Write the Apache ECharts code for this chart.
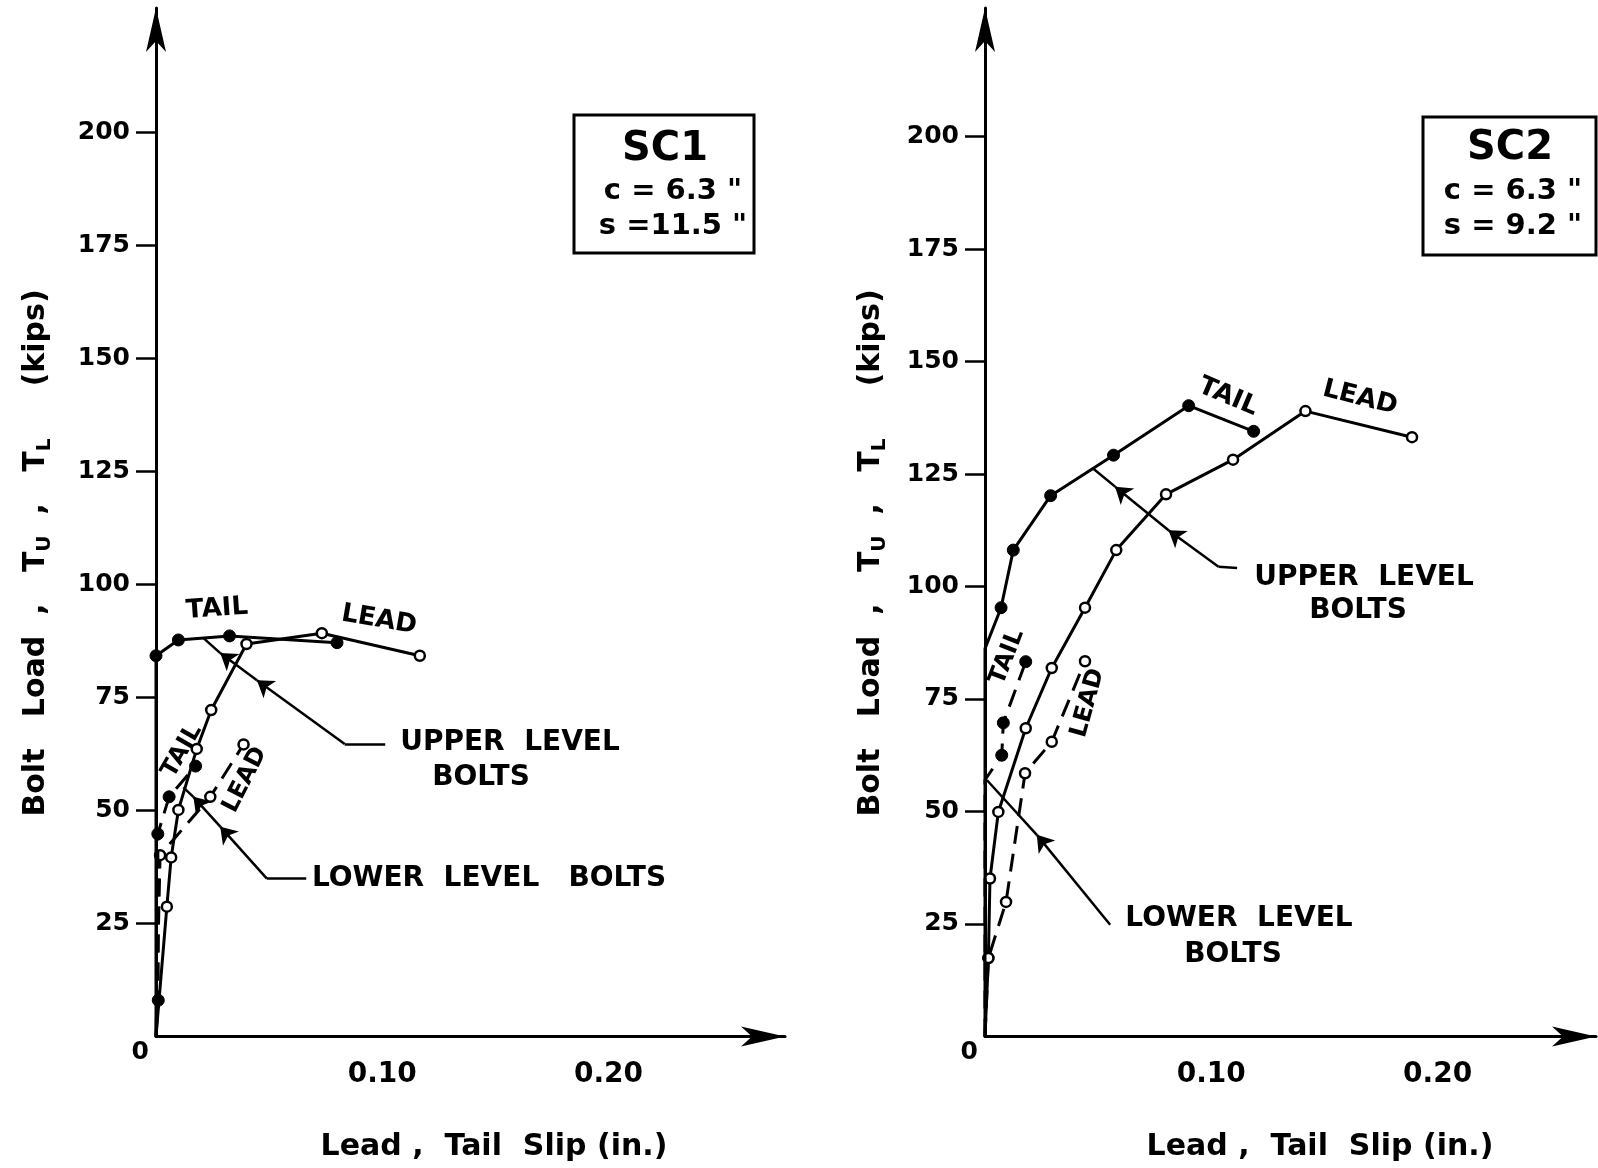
<!DOCTYPE html>
<html><head><meta charset="utf-8">
<script src="https://cdn.jsdelivr.net/npm/echarts@6/dist/echarts.min.js"></script>
<style>html,body{margin:0;padding:0;background:#fff}#c{width:1598px;height:1168px}</style>
</head><body><div id="c"></div>
<script>
// ---- data (slip in inches, load in kips) ----
const yTickValues = [25, 50, 75, 100, 125, 150, 175, 200];
const yLabelValues = [0, 25, 50, 75, 100, 125, 150, 175, 200];
const xLabelValues = [0.10, 0.20];

// SC1
const sc1UpperTail = [[0,0],[0,84.2],[0.0099,87.7],[0.0325,88.6],[0.080,87.1]];
const sc1UpperLead = [[0,0],[0.0048,28.7],[0.0067,39.6],[0.0099,50.1],[0.018,63.6],[0.0244,72.2],[0.040,86.8],[0.0733,89.2],[0.1166,84.2]];
const sc1LowerTail = [[0,0],[0.001,8.0],[0.0008,44.8],[0.0058,53.0],[0.0175,59.8]];
const sc1LowerLead = [[0,0],[0.0018,40.1],[0.024,53.0],[0.0387,64.6]];
// SC2
const sc2UpperTail = [[0,0],[0,86.2],[0.0071,95.3],[0.0125,108.1],[0.029,120.2],[0.0568,129.2],[0.090,140.2],[0.1187,134.5]];
const sc2UpperLead = [[0,0],[0.0015,17.4],[0.0022,35.1],[0.0059,49.9],[0.018,68.5],[0.0295,81.9],[0.0442,95.3],[0.058,108.1],[0.080,120.5],[0.1096,128.2],[0.1416,139.0],[0.1887,133.2]];
const sc2LowerTail = [[0,0],[0,57.0],[0.0074,62.5],[0.0081,69.7],[0.018,83.3]];
const sc2LowerLead = [[0,0],[0.0015,17.4],[0.0093,29.9],[0.0177,58.5],[0.0295,65.5],[0.0442,83.4]];

// leader lines (data coordinates) : [from, to]
const sc1LeaderArrowSegs = [[[0.0834,64.7],[0.0446,78.8]],[[0.0446,78.8],[0.0284,84.8]],[[0.0490,34.9],[0.0284,46.4]],[[0.0284,46.4],[0.0165,53.0]]];
const sc1LeaderPlainSegs = [[[0.1013,64.7],[0.0834,64.7]],[[0.0284,84.8],[0.0210,88.1]],[[0.0664,34.9],[0.0490,34.9]],[[0.0165,53.0],[0.0121,55.1]]];
const sc2LeaderArrowSegs = [[[0.1032,104.4],[0.0811,112.5]],[[0.0811,112.5],[0.0575,122.2]],[[0.0553,24.8],[0.0229,44.8]]];
const sc2LeaderPlainSegs = [[[0.1114,104.1],[0.1032,104.4]],[[0.0575,122.2],[0.0479,126.2]],[[0.0229,44.8],[0.0008,57.0]]];

const FONT = '"DejaVu Sans", sans-serif';
const chart = echarts.init(document.getElementById('c'), null, {renderer: 'canvas'});

function axisLineStyle() {
  return {onZero: false, lineStyle: {color: '#000', width: 3}, symbol: ['none', 'arrow'], symbolSize: [15, 44], symbolOffset: [0, 0]};
}
function xAxisOf(gi, max) {
  return {
    gridIndex: gi, type: 'value', min: 0, max: max,
    axisLine: axisLineStyle(),
    axisTick: {show: false}, splitLine: {show: false},
    axisLabel: {customValues: xLabelValues, formatter: v => v.toFixed(2), fontSize: 28, fontWeight: 'bold', color: '#000', margin: 24, fontFamily: FONT}
  };
}
function yAxisOf(gi, max) {
  return {
    gridIndex: gi, type: 'value', min: 0, max: max,
    axisLine: axisLineStyle(),
    axisTick: {show: true, inside: false, length: 20, customValues: yTickValues, lineStyle: {color: '#000', width: 2.5}},
    splitLine: {show: false},
    axisLabel: {
      customValues: yLabelValues, margin: 7, color: '#000', fontFamily: FONT, fontSize: 25, fontWeight: 'bold',
      formatter: v => v === 0 ? '{z|0}' : '{n|' + v + '}',
      rich: {n: {fontSize: 25, fontWeight: 'bold', fontFamily: FONT, color: '#000', padding: [0, 19, 0, 0]},
             z: {fontSize: 25, fontWeight: 'bold', fontFamily: FONT, color: '#000', padding: [32, 0, 0, 0]}}
    }
  };
}
function curve(name, data, gi, filled, dashed, markAxisStart) {
  return {
    name: name, type: 'line', xAxisIndex: gi, yAxisIndex: gi, data: data,
    symbol: (v) => (v[1] === 0 || (!markAxisStart && v[0] === 0)) ? 'none' : 'circle',
    symbolSize: filled ? 12 : 10, showAllSymbol: true,
    itemStyle: {color: filled ? '#000' : '#fff', borderColor: '#000', borderWidth: filled ? 1 : 2.5},
    lineStyle: {color: '#000', width: 3, type: dashed ? [18, 10] : 'solid'},
    animation: false, silent: true, z: filled ? 4 : 3
  };
}
function leaders(segs, gi, arrow) {
  return {
    type: 'lines', coordinateSystem: 'cartesian2d', xAxisIndex: gi, yAxisIndex: gi,
    symbol: arrow ? ['none', 'arrow'] : 'none', symbolSize: arrow ? 16 : 0,
    lineStyle: {color: '#000', width: 2.5, opacity: 1, curveness: 0},
    data: segs.map(s => ({coords: s})), animation: false, silent: true, z: 2
  };
}
function txt(text, x, y, size, rot) {
  return {type: 'text', x: x, y: y, rotation: rot || 0, silent: true, z: 10,
    style: {text: text, fill: '#000', font: 'bold ' + size + 'px ' + FONT,
            align: 'center', verticalAlign: 'middle', textAlign: 'center', textVerticalAlign: 'middle'}};
}
function box(x1, y1, x2, y2) {
  return {type: 'rect', shape: {x: x1, y: y1, width: x2 - x1, height: y2 - y1}, silent: true, z: 10,
    style: {fill: '#fff', stroke: '#000', lineWidth: 3}};
}
function yTitle(x, y) {
  return {type: 'text', x: x, y: y, rotation: Math.PI / 2, silent: true, z: 10,
    style: {text: 'Bolt   Load  ,   T{s|U}  ,   T{s|L}     (kips)', fill: '#000', font: 'bold 30px ' + FONT,
      align: 'center', verticalAlign: 'middle', textAlign: 'center', textVerticalAlign: 'middle',
      rich: {s: {fontSize: 20, fontWeight: 'bold', fontFamily: FONT, fill: '#000', padding: [18, 0, 0, 0]}}}};
}

const option = {
  backgroundColor: '#fff',
  animation: false,
  textStyle: {fontFamily: FONT},
  grid: [
    {left: 156, top: 8, width: 629, height: 1028.4, containLabel: false, outerBoundsMode: 'none'},
    {left: 985, top: 8, width: 611, height: 1028.4, containLabel: false, outerBoundsMode: 'none'}
  ],
  xAxis: [xAxisOf(0, 0.278), xAxisOf(1, 0.270)],
  yAxis: [yAxisOf(0, 227.5), yAxisOf(1, 228.6)],
  series: [
    curve('SC1 upper tail', sc1UpperTail, 0, true, false, true),
    curve('SC1 upper lead', sc1UpperLead, 0, false, false, true),
    curve('SC1 lower tail', sc1LowerTail, 0, true, true, true),
    curve('SC1 lower lead', sc1LowerLead, 0, false, true, true),
    curve('SC2 upper tail', sc2UpperTail, 1, true, false, false),
    curve('SC2 upper lead', sc2UpperLead, 1, false, false, false),
    curve('SC2 lower tail', sc2LowerTail, 1, true, true, false),
    curve('SC2 lower lead', sc2LowerLead, 1, false, true, false),
    leaders(sc1LeaderArrowSegs, 0, true), leaders(sc1LeaderPlainSegs, 0, false),
    leaders(sc2LeaderArrowSegs, 1, true), leaders(sc2LeaderPlainSegs, 1, false)
  ],
  graphic: {elements: [
    yTitle(36, 553), yTitle(871, 553),
    txt('Lead ,  Tail  Slip (in.)', 494, 1147, 30),
    txt('Lead ,  Tail  Slip (in.)', 1320, 1147, 30),
    // SC1 annotations
    txt('TAIL', 217, 609, 26, 0.07), txt('LEAD', 379, 620, 26, -0.17),
    txt('TAIL', 182, 751, 24, 1.05), txt('LEAD', 245, 780, 24, 1.1),
    txt('UPPER  LEVEL', 510, 743, 28), txt('BOLTS', 481, 778, 28),
    txt('LOWER  LEVEL   BOLTS', 489, 879, 28),
    box(574, 115, 754, 253),
    txt('SC1', 665, 150, 40), txt('c = 6.3 "', 673, 191, 29), txt('s =11.5 "', 673, 226, 29),
    // SC2 annotations
    txt('TAIL', 1228, 397, 26, -0.4), txt('LEAD', 1360, 398, 26, -0.25),
    txt('TAIL', 1007, 657, 24, 1.2), txt('LEAD', 1088, 703, 24, 1.3),
    txt('UPPER  LEVEL', 1364, 578, 28), txt('BOLTS', 1358, 611, 28),
    txt('LOWER  LEVEL', 1239, 919, 28), txt('BOLTS', 1233, 955, 28),
    box(1423, 117, 1596, 255),
    txt('SC2', 1510, 149, 40), txt('c = 6.3 "', 1513, 191, 29), txt('s = 9.2 "', 1513, 226, 29)
  ]}
};
chart.setOption(option);
</script></body></html>
